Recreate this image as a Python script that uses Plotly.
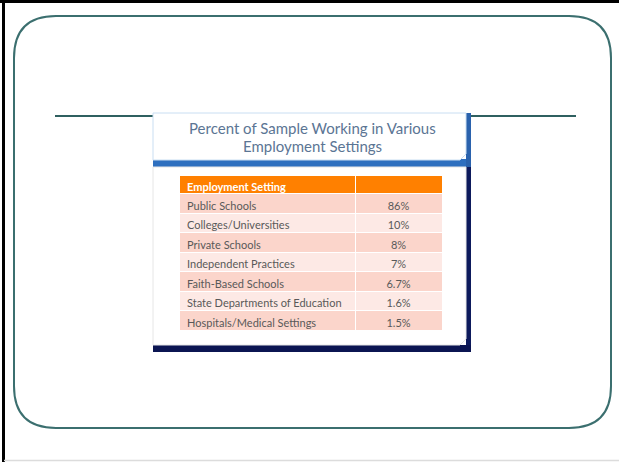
import plotly.graph_objects as go

# data
settings = ['Public Schools', 'Colleges/Universities', 'Private Schools',
            'Independent Practices', 'Faith-Based Schools',
            'State Departments of Education', 'Hospitals/Medical Settings']
percents = ['86%', '10%', '8%', '7%', '6.7%', '1.6%', '1.5%']
header = ['Employment Setting', '']
title_lines = ['Percent of Sample Working in Various', 'Employment Settings']

W, H = 619, 462
row_fill = ['#fbd5cb' if i % 2 == 0 else '#fde9e5' for i in range(len(settings))]

fig = go.Figure()

# table placed in pixel-like paper coords
tx0, tx1, ty0, ty1 = 179, 442, 175, 336
fig.add_trace(go.Table(
    domain=dict(x=[tx0 / W, tx1 / W], y=[1 - ty1 / H, 1 - ty0 / H]),
    columnwidth=[176, 87],
    header=dict(values=header,
                fill_color='#ff8000', line=dict(color='white', width=1),
                font=dict(family='Lato', size=11, color='white', weight='bold'),
                align=['left', 'center'], height=18.5),
    cells=dict(values=[settings, percents],
               fill_color=[row_fill, row_fill],
               line=dict(color='white', width=1),
               font=dict(family='Lato', size=11, color='#595959'),
               align=['left', 'center'], height=19.5),
))

shapes = []
# outer page edges
shapes.append(dict(type='line', x0=0, x1=W, y0=1.5, y1=1.5, line=dict(color='black', width=3)))
shapes.append(dict(type='line', x0=3.5, x1=3.5, y0=0, y1=H, line=dict(color='black', width=3)))
shapes.append(dict(type='line', x0=4, x1=W, y0=460.5, y1=460.5, line=dict(color='#dcdcdc', width=1.5)))

# rounded frame
l, r, t, b, rad = 14, 611, 16, 428, 42
path = (f'M {l+rad},{t} L {r-rad},{t} Q {r},{t} {r},{t+rad} L {r},{b-rad} '
        f'Q {r},{b} {r-rad},{b} L {l+rad},{b} Q {l},{b} {l},{b-rad} '
        f'L {l},{t+rad} Q {l},{t} {l+rad},{t} Z')
shapes.append(dict(type='path', path=path, line=dict(color='#3b6f6f', width=2)))

# teal rule
shapes.append(dict(type='line', x0=55, x1=154, y0=116, y1=116, line=dict(color='#2f6060', width=2)))
shapes.append(dict(type='line', x0=470, x1=576, y0=116, y1=116, line=dict(color='#2f6060', width=2)))

# title box with blue band
shapes.append(dict(type='rect', x0=153, x1=471, y0=159, y1=167, fillcolor='#2e6fbf', line=dict(width=0)))
shapes.append(dict(type='rect', x0=466, x1=471, y0=113, y1=167, fillcolor='#2a62ad', line=dict(width=0)))
shapes.append(dict(type='path', path='M 153,113 L 466,113 L 466,154 L 460,160 L 153,160 Z',
                   fillcolor='white', line=dict(color='#c9def2', width=1)))

# lower panel
shapes.append(dict(type='rect', x0=466, x1=471, y0=167, y1=352, fillcolor='#0d1a5c', line=dict(width=0)))
shapes.append(dict(type='rect', x0=153, x1=471, y0=345, y1=352, fillcolor='#0b1552', line=dict(width=0)))
shapes.append(dict(type='path', path='M 153,167 L 466,167 L 466,339 L 460,345 L 153,345 Z',
                   fillcolor='white', line=dict(color='#e6e6e6', width=1)))

for s in shapes:
    s['layer'] = 'below'

annotations = []
for i, line in enumerate(title_lines):
    annotations.append(dict(x=312, y=128 + i * 18, xref='x', yref='y', text=line,
                            showarrow=False, font=dict(family='Lato', size=15, color='#5b7594')))

fig.update_layout(
    width=W, height=H,
    margin=dict(l=0, r=0, t=0, b=0),
    paper_bgcolor='white', plot_bgcolor='rgba(0,0,0,0)',
    xaxis=dict(range=[0, W], visible=False, fixedrange=True),
    yaxis=dict(range=[H, 0], visible=False, fixedrange=True),
    shapes=shapes, annotations=annotations,
    showlegend=False,
)
fig.write_html('out.html', config={'displayModeBar': False},
               post_script="document.body.style.margin='0px';")
